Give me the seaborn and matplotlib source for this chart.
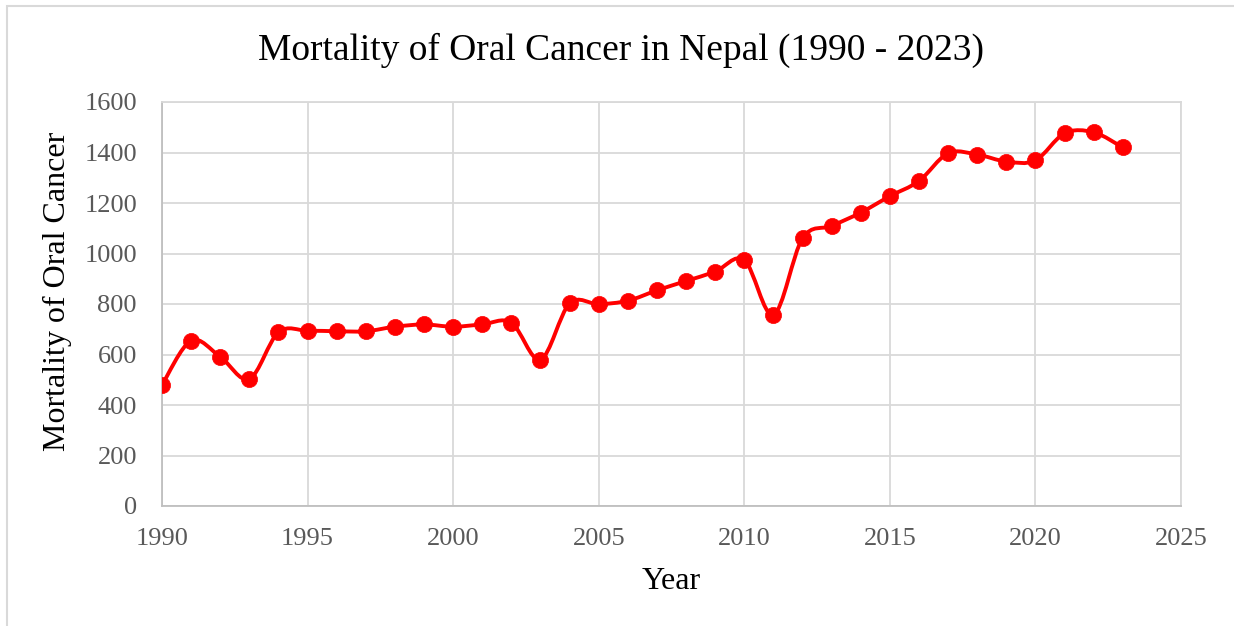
import numpy as np
import pandas as pd
import matplotlib
matplotlib.use("Agg")
import matplotlib.pyplot as plt
from matplotlib.path import Path
from matplotlib.patches import PathPatch, Rectangle
import seaborn as sns

years = [1990, 1991, 1992, 1993, 1994, 1995, 1996, 1997, 1998, 1999,
         2000, 2001, 2002, 2003, 2004, 2005, 2006, 2007, 2008, 2009,
         2010, 2011, 2012, 2013, 2014, 2015, 2016, 2017, 2018, 2019,
         2020, 2021, 2022, 2023]
deaths = [479, 655, 591, 503, 688, 694, 692, 692, 710, 719,
          710, 719, 726, 580, 802, 799, 813, 854, 891, 928,
          974, 757, 1060, 1109, 1162, 1227, 1287, 1397, 1392, 1364,
          1369, 1476, 1480, 1420]
x_ticks = [1990, 1995, 2000, 2005, 2010, 2015, 2020, 2025]
y_ticks = [0, 200, 400, 600, 800, 1000, 1200, 1400, 1600]

df = pd.DataFrame({"Year": years, "Deaths": deaths})

sns.set_theme(style="white")
plt.rcParams["font.family"] = ["Liberation Serif", "DejaVu Serif"]

fig = plt.figure(figsize=(12.34, 6.26), dpi=100)
ax = fig.add_axes([162 / 1234, 1 - 506 / 626, (1181 - 162) / 1234, (506 - 102) / 626])

# outer chart frame
fig.patches.append(Rectangle((7 / 1234, -0.05), 1.2, 1 - 6 / 626 + 0.05,
                             transform=fig.transFigure, fill=False,
                             edgecolor="#d9d9d9", linewidth=1.5, zorder=0))

red = "#ff0000"

# smoothed connecting line (Catmull-Rom style cubic Bezier segments)
pts = np.column_stack([df["Year"].to_numpy(float), df["Deaths"].to_numpy(float)])
n = len(pts)
verts = [pts[0]]
codes = [Path.MOVETO]
for i in range(n - 1):
    p0 = pts[i - 1] if i > 0 else pts[i]
    p1 = pts[i]
    p2 = pts[i + 1]
    p3 = pts[i + 2] if i + 2 < n else pts[i + 1]
    c1 = p1 + (p2 - p0) / 6.0
    c2 = p2 - (p3 - p1) / 6.0
    verts += [c1, c2, p2]
    codes += [Path.CURVE4] * 3
ax.add_patch(PathPatch(Path(verts, codes), facecolor="none", edgecolor=red,
                       linewidth=2.8, capstyle="round", joinstyle="round", zorder=3))

sns.scatterplot(data=df, x="Year", y="Deaths", ax=ax, color=red, s=135,
                edgecolor=red, linewidth=0.5, zorder=4, legend=False)

ax.set_xlim(1990, 2025)
ax.set_ylim(0, 1600)
ax.set_xticks(x_ticks)
ax.set_yticks(y_ticks)
ax.grid(True, color="#d9d9d9", linewidth=1.3)
ax.set_axisbelow(True)
for side in ["top", "right"]:
    ax.spines[side].set_color("#d9d9d9")
    ax.spines[side].set_linewidth(1.3)
for side in ["left", "bottom"]:
    ax.spines[side].set_color("#bfbfbf")
    ax.spines[side].set_linewidth(1.3)
ax.tick_params(axis="both", length=0, labelsize=19, labelcolor="#595959")
ax.tick_params(axis="x", pad=16)
ax.tick_params(axis="y", pad=18)

ax.set_xlabel("Year", fontsize=23, color="black", labelpad=12)
ax.set_ylabel("")
fig.text(57 / 1234, 1 - 291 / 626, "Mortality of Oral Cancer", rotation=90,
         ha="center", va="center", fontsize=23, color="black")
fig.text(0.503, 1 - 50 / 626, "Mortality of Oral Cancer in Nepal (1990 - 2023)",
         ha="center", va="center", fontsize=27, color="black")

fig.savefig("out.png", dpi=100, facecolor="white")
